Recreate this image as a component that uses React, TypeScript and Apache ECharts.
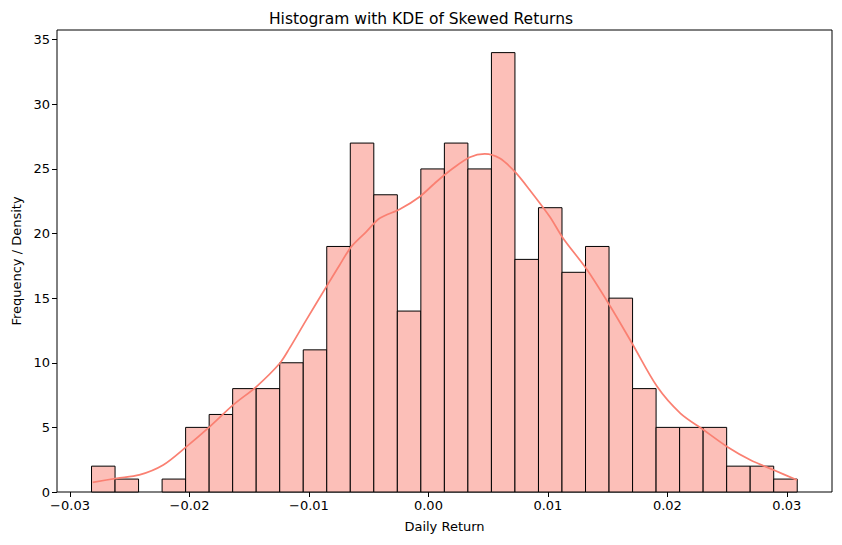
import React, { useEffect, useRef } from "react";
import * as echarts from "echarts";

const binStart = -0.0282;
const binEnd = 0.03087;
const counts = [2, 1, 0, 1, 5, 6, 8, 8, 10, 11, 19, 27, 23, 14, 25, 27, 25, 34, 18, 22, 17, 19, 15, 8, 5, 5, 5, 2, 2, 1];
const kdeX = [-0.0281, -0.0261, -0.0242, -0.0222, -0.02025, -0.0183, -0.01634, -0.01439, -0.01244, -0.01162, -0.01022, -0.00854, -0.00743, -0.00645, -0.00519, -0.00408, -0.0024, -0.00073, 0.00067, 0.00206, 0.00346, 0.00472, 0.00597, 0.00723, 0.00848, 0.01016, 0.01127, 0.01328, 0.01523, 0.01704, 0.01914, 0.02109, 0.02304, 0.025, 0.02695, 0.0289, 0.03085];
const kdeY = [0.75, 1.06, 1.32, 2.09, 3.51, 5.06, 6.74, 8.16, 9.96, 11.13, 13.32, 15.89, 17.57, 18.99, 20.15, 21.18, 21.88, 22.85, 24.01, 25.05, 25.9, 26.16, 25.82, 24.79, 23.37, 21.3, 19.64, 17.19, 14.35, 11.51, 8.16, 6.09, 4.8, 3.51, 2.48, 1.7, 0.93];
const xTicks = [-0.03, -0.02, -0.01, 0, 0.01, 0.02, 0.03];
const yTicks = [0, 5, 10, 15, 20, 25, 30, 35];

const FONT = "DejaVu Sans";

export default function App() {
  const ref = useRef<HTMLDivElement>(null);
  useEffect(() => {
    if (!ref.current) return;
    const chart = echarts.init(ref.current, null, { renderer: "svg" });
    const w = (binEnd - binStart) / counts.length;
    const bins = counts.map((c, i) => [binStart + i * w, binStart + (i + 1) * w, c]);
    const fmt = (v: number) => (v < 0 ? "\u2212" + Math.abs(v).toFixed(2) : v.toFixed(2));
    chart.setOption({
      animation: false,
      backgroundColor: "#fff",
      title: {
        text: "Histogram with KDE of Skewed Returns",
        left: "center",
        top: 6,
        textStyle: { fontFamily: FONT, fontSize: 15.5, fontWeight: "normal", color: "#000" },
      },
      grid: { left: 57, right: 10, top: 30, bottom: 53, show: true, borderColor: "#000", borderWidth: 1, backgroundColor: "transparent" },
      xAxis: {
        type: "value",
        min: -0.03109,
        max: 0.03378,
        name: "Daily Return",
        nameLocation: "middle",
        nameGap: 28,
        nameTextStyle: { fontFamily: FONT, fontSize: 13, color: "#000" },
        axisLine: { show: false, onZero: false },
        axisTick: { show: true, inside: false, length: 5, lineStyle: { color: "#000" }, customValues: xTicks },
        axisLabel: { fontFamily: FONT, fontSize: 13, color: "#000", margin: 7, formatter: fmt, customValues: xTicks },
        splitLine: { show: false },
      },
      yAxis: {
        type: "value",
        min: 0,
        max: 35.75,
        name: "Frequency / Density",
        nameLocation: "middle",
        nameRotate: 90,
        nameGap: 34,
        nameTextStyle: { fontFamily: FONT, fontSize: 13, color: "#000" },
        axisLine: { show: false, onZero: false },
        axisTick: { show: true, inside: false, length: 5, lineStyle: { color: "#000" }, customValues: yTicks },
        axisLabel: { fontFamily: FONT, fontSize: 13, color: "#000", margin: 7, customValues: yTicks },
        splitLine: { show: false },
      },
      series: [
        {
          type: "custom",
          data: bins,
          encode: { x: [0, 1], y: 2 },
          z: 2,
          renderItem: (params: any, api: any) => {
            const x0 = api.value(0);
            const x1 = api.value(1);
            const c = api.value(2);
            if (!c) return null;
            const p0 = api.coord([x0, c]);
            const p1 = api.coord([x1, 0]);
            return {
              type: "rect",
              shape: { x: p0[0], y: p0[1], width: p1[0] - p0[0], height: p1[1] - p0[1] },
              style: { fill: "#fcbfb8", stroke: "#000", lineWidth: 1 },
            };
          },
        },
        {
          type: "line",
          data: kdeX.map((x, i) => [x, kdeY[i]]),
          smooth: 0.3,
          symbol: "none",
          z: 3,
          lineStyle: { color: "#FA8072", width: 1.75 },
        },
      ],
    });
    return () => chart.dispose();
  }, []);
  return <div ref={ref} style={{ width: 842, height: 545, margin: -8 }} />;
}
